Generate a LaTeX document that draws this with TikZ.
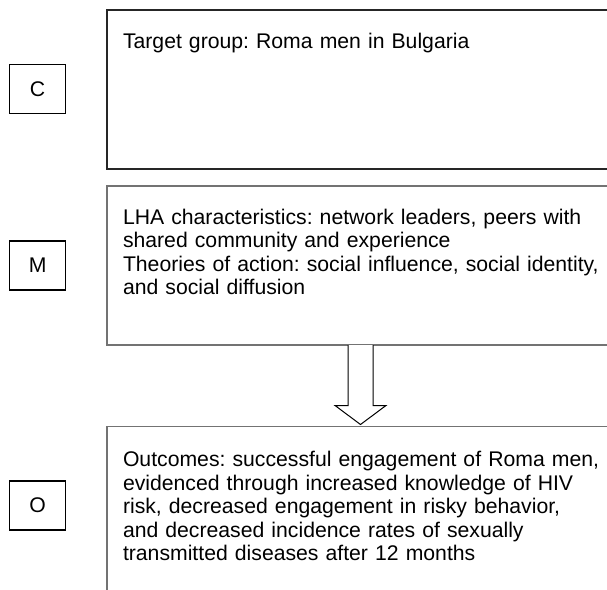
\documentclass[tikz,border=0pt]{standalone}
\usepackage{fontspec}
\setmainfont{Liberation Sans}
\usetikzlibrary{calc}
\frenchspacing
\begin{document}
\begin{tikzpicture}[x=1pt,y=-1pt,
  bigbox/.style={draw=#1,line width=1.5pt,fill=none,inner sep=0pt,outer sep=0pt,anchor=north west},
  letterbox/.style={draw=black,line width=1.1pt,inner sep=0pt,minimum width=56.5pt,minimum height=49pt,font=\fontsize{21.2}{23.5}\selectfont},
  txt/.style={inner sep=0pt,outer sep=0pt,anchor=base west,text width=490pt,align=left,font=\fontsize{21.2}{23.5}\selectfont\frenchspacing},
  blockarrow/.style={draw=black,line width=1pt,fill=white,line join=miter}]
\clip (0,0) rectangle (607,589);
\fill[white] (0,0) rectangle (607,589);
% main boxes
\node[bigbox=black!85,minimum width=530pt,minimum height=159pt] (b1) at (107,10) {};
\node[bigbox=black!55,minimum width=530pt,minimum height=159pt] (b2) at (107,186) {};
\node[bigbox=black!55,minimum width=530pt,minimum height=200pt] (b3) at (107,426.5) {};
% letter boxes
\node[letterbox] (c) at (37.6,88.8) {C};
\node[letterbox] (m) at (37.6,265.5) {M};
\node[letterbox] (o) at (37.6,505.5) {O};
% texts
\node[txt] (t1) at (123,48) {Target group: Roma men in Bulgaria};
\node[txt] (t2) at (123,224) {LHA characteristics: network leaders, peers with\\
shared community and experience\\
Theories of action: social influence, social identity,\\
and social diffusion};
\node[txt] (t3) at (123,466.5) {Outcomes: successful engagement of Roma men,\\
evidenced through increased knowledge of HIV\\
risk, decreased engagement in risky behavior,\\
and decreased incidence rates of sexually\\
transmitted diseases after 12 months};
% block arrow from b2 to b3
\coordinate (ax) at (360.5,0);
\path (b2.south -| ax) coordinate (atop);
\path (b3.north -| ax) coordinate (atip);
\path ($(atip)+(0,-2)$) coordinate (tip);
\draw[blockarrow] ($(atop)+(-12.5,0)$) -- ($(tip)+(-12.5,-19)$) -- ($(tip)+(-25.5,-19)$) -- (tip)
  -- ($(tip)+(25.5,-19)$) -- ($(tip)+(12.5,-19)$) -- ($(atop)+(12.5,0)$);
\end{tikzpicture}
\end{document}
